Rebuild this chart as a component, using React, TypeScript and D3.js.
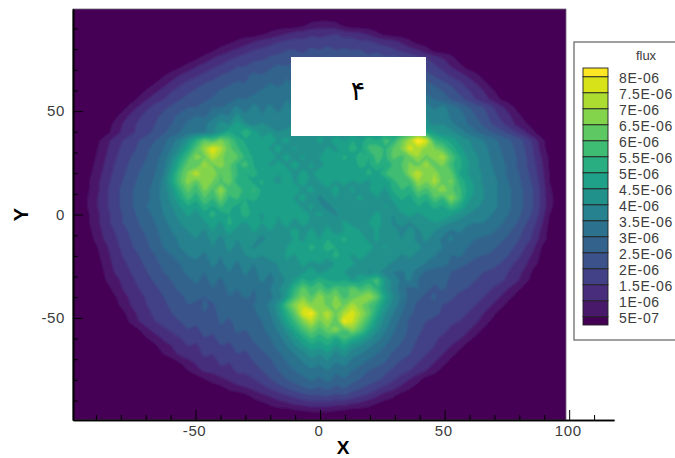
import React, { useEffect, useRef } from "react";
import * as d3 from "d3";

// contour levels, bottom to top of the legend
const levels = [5e-7, 1e-6, 1.5e-6, 2e-6, 2.5e-6, 3e-6, 3.5e-6, 4e-6, 4.5e-6, 5e-6, 5.5e-6, 6e-6, 6.5e-6, 7e-6, 7.5e-6, 8e-6];
const levelLabels = ["5E-07", "1E-06", "1.5E-06", "2E-06", "2.5E-06", "3E-06", "3.5E-06", "4E-06", "4.5E-06", "5E-06", "5.5E-06", "6E-06", "6.5E-06", "7E-06", "7.5E-06", "8E-06"];
const majorX = [-50, 0, 50, 100];
const minorX = [-90, -80, -70, -60, -40, -30, -20, -10, 10, 20, 30, 40, 60, 70, 80, 90, 110];
const majorY = [-50, 0, 50];
const minorY = [-90, -80, -70, -60, -40, -30, -20, -10, 10, 20, 30, 40, 60, 70, 80, 90];

// flux, units of 1E-07, on a 61 x 51 grid, top row first.
// each row only lists the cells inside the disc, rowStarts says where it begins
const outside = 2;
const gridCols = 61;
const rowStarts = [0,0,28,23,19,17,15,13,11,10,8,7,6,5,5,4,3,3,3,2,2,2,2,2,2,2,2,2,2,3,3,3,4,4,5,5,6,6,7,8,9,10,11,13,14,16,18,21,23,27,0];
const fluxRows = [
  [],
  [],
  [4,7,8,8,7,4],
  [4,6,8,10,12,13,14,13,14,15,13,12,11,9,6,3],
  [4,6,8,10,12,13,15,16,17,16,18,17,18,17,17,18,16,16,14,13,12,9,6,3],
  [4,7,9,11,13,15,16,18,18,20,20,19,21,20,22,20,21,20,20,18,19,17,16,14,12,10,7,3],
  [4,7,10,12,14,16,18,19,19,21,22,23,24,22,25,24,26,24,25,23,24,22,23,21,22,20,19,17,15,13,10,7,3],
  [4,7,10,12,14,16,18,20,20,22,23,24,26,25,27,25,28,26,27,25,26,28,26,24,26,24,23,22,22,20,18,16,13,10,7,3],
  [4,7,10,12,14,16,18,20,21,22,24,26,25,27,26,29,27,30,28,29,27,30,28,29,27,28,26,27,27,25,24,24,22,19,17,14,12,9,6,3],
  [5,8,11,14,16,18,20,21,22,24,26,25,28,27,30,28,31,29,32,30,31,29,32,30,31,29,30,31,29,31,29,28,28,26,24,21,19,16,13,10,6,3],
  [3,6,9,12,15,17,19,21,23,23,26,27,26,29,28,31,30,32,31,33,31,34,32,33,31,34,32,33,31,34,32,35,33,31,32,29,27,25,22,19,16,13,10,6,3],
  [3,6,10,13,15,18,20,22,24,24,26,28,27,31,30,33,31,34,32,35,33,36,34,35,33,36,34,37,33,35,37,34,38,35,33,36,32,30,28,25,22,19,15,12,9,5,3],
  [3,7,11,14,17,19,21,23,25,25,28,30,30,34,36,32,37,34,36,33,37,34,38,35,37,34,37,35,38,34,37,35,39,36,41,37,42,38,34,37,33,30,26,23,20,16,12,8,4],
  [3,7,11,14,17,19,21,24,26,28,30,29,33,37,35,42,36,40,35,38,36,40,37,39,36,39,37,40,36,39,37,41,38,42,40,44,41,47,40,37,38,34,32,29,25,22,18,14,11,7,3],
  [6,10,13,16,18,20,23,25,28,31,30,34,38,42,40,48,41,38,41,37,39,37,41,38,40,37,41,38,42,38,41,39,42,40,46,42,49,44,41,39,40,36,33,30,27,24,20,17,13,9,6,3],
  [3,7,11,14,16,19,21,24,27,30,33,35,34,39,44,50,46,55,48,43,45,40,42,40,42,38,43,40,42,39,43,40,44,41,48,44,50,54,58,50,46,41,42,38,34,31,28,25,22,19,15,11,6],
  [4,8,12,15,17,20,22,25,28,33,37,44,53,62,58,66,60,53,49,50,46,48,44,47,42,45,42,47,43,49,45,50,47,54,50,57,54,64,72,86,78,56,52,48,44,41,38,35,32,29,26,23,19,14,7],
  [5,9,13,16,18,21,24,27,30,35,41,50,60,70,80,72,62,56,51,47,49,44,47,42,46,41,45,42,46,44,48,52,49,56,59,54,61,66,78,72,68,65,61,53,47,42,39,37,33,30,27,24,20,15,8],
  [6,10,14,17,20,23,25,28,32,39,48,57,68,64,74,67,60,61,54,49,46,48,44,47,43,46,42,45,48,46,51,48,53,50,57,54,62,58,64,70,63,68,72,60,51,45,41,38,34,31,28,25,21,16,10,4],
  [3,7,11,15,18,21,24,26,29,33,42,53,63,60,72,64,68,61,54,57,50,47,44,47,44,48,43,46,43,47,45,49,46,52,49,55,50,56,60,66,63,72,61,66,56,52,46,41,38,35,32,29,25,21,17,11,4],
  [4,8,12,16,19,22,25,27,30,35,46,58,66,76,65,70,60,62,55,50,53,46,49,45,48,43,47,44,48,45,49,46,50,47,52,48,55,60,57,68,76,65,70,60,62,50,45,42,39,36,32,29,26,22,18,12,5],
  [5,9,13,17,20,23,26,28,31,37,48,59,68,61,70,65,59,64,52,55,48,51,46,43,48,44,48,43,45,49,44,48,44,47,43,50,46,53,60,57,70,65,72,63,66,54,48,43,39,37,34,30,27,23,19,13,5],
  [5,9,14,18,21,24,27,29,32,37,44,54,62,56,66,59,70,57,60,52,56,49,46,49,45,48,44,47,41,44,47,42,46,41,45,48,44,51,55,52,62,58,64,70,61,57,49,44,40,37,34,31,28,24,20,14,6],
  [6,10,14,18,21,24,27,29,32,37,42,49,57,52,60,55,64,54,56,50,53,47,50,45,49,44,47,42,39,42,45,41,44,47,42,45,41,47,51,48,55,51,60,55,68,58,47,43,40,37,34,31,28,24,20,14,7],
  [6,10,14,18,21,24,27,30,32,36,40,45,50,46,54,49,56,51,49,52,46,50,46,50,45,48,43,46,41,38,42,40,44,41,45,42,46,43,48,45,50,47,52,49,56,51,44,41,39,37,34,31,28,24,20,14,7],
  [5,9,13,17,20,23,26,29,31,35,38,42,46,43,48,52,47,50,46,54,47,44,48,45,50,46,48,44,47,42,39,43,40,45,42,47,43,40,44,47,43,48,45,50,46,43,40,38,37,35,32,30,27,23,19,13,5],
  [5,9,13,17,20,22,25,28,30,33,37,40,43,40,44,48,44,52,47,44,50,45,48,44,47,43,47,44,40,44,42,46,43,40,45,47,43,39,43,39,44,41,45,42,40,38,36,35,35,33,31,28,25,21,17,11,4],
  [4,8,12,15,18,21,24,26,29,32,35,38,40,42,39,45,42,47,43,40,46,42,45,41,44,47,43,46,43,47,43,45,48,45,42,46,40,43,38,42,39,43,40,37,34,36,33,32,32,31,28,26,23,19,15,9,3],
  [3,7,11,14,17,20,23,25,28,31,33,36,38,40,37,42,38,43,40,45,42,38,43,40,42,46,44,48,45,50,47,52,45,48,43,46,42,44,40,42,38,41,37,34,36,32,30,30,29,28,26,24,21,18,14,8,3],
  [5,9,13,16,19,22,24,27,30,32,35,37,39,36,40,37,42,38,42,39,44,40,43,45,50,46,52,48,53,50,47,50,45,48,43,46,41,44,40,42,38,40,35,32,34,30,28,27,26,24,22,19,15,11,5],
  [4,8,12,15,18,20,23,25,28,30,33,35,36,34,38,35,39,36,40,43,40,44,41,46,44,50,47,50,47,52,47,44,48,43,45,41,44,39,42,37,39,35,32,30,31,28,26,25,24,22,20,17,13,9,4],
  [3,7,11,14,16,19,21,24,26,28,30,32,34,32,36,34,37,34,38,35,39,37,41,44,43,46,44,45,41,46,50,46,43,44,40,43,38,39,36,38,34,31,32,29,26,25,23,23,22,20,17,14,11,7,3],
  [6,10,13,15,18,20,22,25,27,29,31,33,30,34,32,35,33,36,33,38,35,39,43,41,44,48,43,46,50,45,41,44,39,42,37,35,34,37,32,29,29,27,25,24,22,21,20,19,17,15,12,9,4],
  [5,8,11,14,16,18,21,23,25,27,29,31,28,32,29,33,31,34,32,36,33,37,41,46,52,48,54,50,47,50,45,48,52,58,45,38,34,36,30,28,26,27,24,23,21,20,19,18,16,14,11,7,3],
  [7,10,13,15,17,19,22,24,26,28,29,27,30,28,31,30,32,30,33,35,39,44,54,62,56,60,54,60,56,62,56,60,54,44,38,32,28,30,26,24,26,23,21,20,18,17,15,13,10,7,3],
  [4,8,11,13,16,18,20,22,24,26,27,25,28,26,30,28,31,29,32,34,37,46,58,66,60,68,62,66,58,62,66,70,62,48,40,34,28,26,24,26,22,21,19,18,17,15,13,10,7,3],
  [7,10,13,15,17,19,21,23,25,23,26,24,28,26,29,27,30,33,36,44,58,68,74,66,70,62,68,64,72,66,60,54,45,38,32,27,24,22,24,20,19,18,17,15,13,10,7,3],
  [3,8,11,14,16,18,20,21,24,22,25,23,27,26,28,27,29,32,35,42,52,62,78,82,68,74,64,72,78,70,62,50,41,35,30,26,23,21,22,19,18,17,15,13,10,7,3],
  [6,10,13,15,17,19,20,22,21,24,22,26,24,27,26,28,30,33,39,48,56,66,74,64,70,60,82,76,66,56,46,38,33,28,24,22,20,18,20,16,15,13,11,8,4],
  [5,9,12,14,16,18,20,19,22,21,24,23,26,25,27,29,32,36,42,50,58,64,58,64,68,60,68,60,50,42,36,31,27,24,21,19,16,17,14,13,11,8,4],
  [5,8,11,13,15,17,17,20,19,22,21,24,23,26,27,30,33,38,44,50,56,52,56,50,58,52,48,42,37,33,29,26,23,20,18,16,14,13,11,8,4],
  [4,8,10,13,15,14,18,17,20,19,22,21,24,26,28,32,35,40,44,48,46,50,44,48,42,40,36,33,30,27,24,21,19,17,15,13,10,7,3],
  [5,8,11,13,13,16,15,18,17,20,19,22,24,26,29,32,35,38,42,40,44,38,42,37,35,32,30,27,24,22,20,18,15,13,10,7,3],
  [5,8,11,13,13,16,15,18,18,20,22,24,27,30,32,35,38,36,39,35,37,33,31,29,27,25,22,19,17,15,13,10,7,3],
  [5,8,11,11,14,13,16,16,18,20,22,25,27,30,32,34,32,35,31,33,30,28,25,23,21,19,17,15,13,10,7,3],
  [5,8,9,11,13,13,15,17,20,22,25,27,29,31,29,32,28,30,27,25,23,21,19,16,13,10,7,3],
  [4,7,9,10,12,14,16,19,21,23,25,27,25,27,24,26,23,21,19,17,14,12,9,6,3],
  [4,7,9,11,13,15,17,19,20,20,21,19,20,18,16,14,11,8,6,3],
  [4,6,8,9,11,12,13,13,13,12,12,10,9,7,5,3],
  [3,4,5,5,5,4,3],
  [],
];

const width = 675;
const height = 458;
const plot = { left: 73, right: 566, top: 9, bottom: 420 };
const axisEnd = 614;

const App = () => {
  const svgRef = useRef<SVGSVGElement>(null);

  useEffect(() => {
    const svg = d3.select(svgRef.current);
    svg.selectAll("*").remove();

    // scales
    const x = d3.scaleLinear().domain([-99.2, 118]).range([plot.left, axisEnd]);
    const y = d3.scaleLinear().domain([-99.4, 99.4]).range([plot.bottom, plot.top]);
    const colorOf = (i: number) => d3.interpolateViridis(i / levels.length);

    svg.append("defs").append("clipPath").attr("id", "plot-clip")
      .append("rect")
      .attr("x", plot.left).attr("y", plot.top)
      .attr("width", plot.right - plot.left).attr("height", plot.bottom - plot.top);
    const soft = svg.select("defs").append("filter").attr("id", "soft")
      .attr("x", "-2%").attr("y", "-2%").attr("width", "104%").attr("height", "104%");
    soft.append("feGaussianBlur").attr("stdDeviation", 1.1);

    // flood contours
    const nx = gridCols;
    const ny = fluxRows.length;
    const flat = new Array(nx * ny).fill(outside * 1e-7);
    fluxRows.forEach((row, j) => {
      row.forEach((v, k) => {
        flat[j * nx + rowStarts[j] + k] = v * 1e-7;
      });
    });
    const cellW = (plot.right - plot.left) / (nx - 1);
    const cellH = (plot.bottom - plot.top) / (ny - 1);
    const toPixels = d3.geoTransform({
      point(px, py) {
        this.stream.point(plot.left + (px - 0.5) * cellW, plot.top + (py - 0.5) * cellH);
      },
    });
    const path = d3.geoPath(toPixels);
    const contours = d3.contours().size([nx, ny]).thresholds(levels)(flat);

    const field = svg.append("g").attr("clip-path", "url(#plot-clip)").append("g").attr("filter", "url(#soft)");
    field.append("rect")
      .attr("x", plot.left - 4).attr("y", plot.top - 4)
      .attr("width", plot.right - plot.left + 8).attr("height", plot.bottom - plot.top + 8)
      .attr("fill", colorOf(0));
    field.selectAll("path.band")
      .data(contours)
      .join("path")
      .attr("class", "band")
      .attr("d", d => path(d))
      .attr("fill", (d, i) => colorOf(i + 1));

    // frame
    svg.append("rect")
      .attr("x", plot.left).attr("y", plot.top)
      .attr("width", plot.right - plot.left).attr("height", plot.bottom - plot.top)
      .attr("fill", "none").attr("stroke", "#6f6a78").attr("stroke-width", 0.8);

    // axes
    const font = "'Liberation Sans', Arial, sans-serif";
    const styleAxis = (g: any) => {
      g.attr("font-family", font).attr("font-size", 15);
      g.selectAll("text").attr("fill", "#3c3c3c").attr("letter-spacing", 0.6);
      g.selectAll("line").attr("stroke", "#000").attr("stroke-width", 1);
      g.selectAll("path.domain").attr("stroke", "#000").attr("stroke-width", 1.6);
    };
    svg.append("g").attr("transform", `translate(0,${plot.bottom})`)
      .call(d3.axisBottom(x).tickValues(majorX).tickSize(-10).tickSizeOuter(0).tickPadding(5).tickFormat(d => String(d)))
      .call(styleAxis)
      .selectAll("text").attr("dx", -1.5);
    svg.append("g").attr("transform", `translate(0,${plot.bottom})`)
      .call(d3.axisBottom(x).tickValues(minorX).tickSize(-5).tickSizeOuter(0).tickFormat(() => ""))
      .call(styleAxis);
    svg.append("g").attr("transform", `translate(${plot.left},0)`)
      .call(d3.axisLeft(y).tickValues(majorY).tickSize(-10).tickSizeOuter(0).tickPadding(8).tickFormat(d => String(d)))
      .call(styleAxis);
    svg.append("g").attr("transform", `translate(${plot.left},0)`)
      .call(d3.axisLeft(y).tickValues(minorY).tickSize(-5).tickSizeOuter(0).tickFormat(() => ""))
      .call(styleAxis);

    svg.append("text")
      .attr("x", 343).attr("y", 454)
      .attr("text-anchor", "middle").attr("font-family", font).attr("font-weight", "bold").attr("font-size", 19)
      .text("X");
    svg.append("text")
      .attr("transform", `translate(28,${y(0)}) rotate(-90)`)
      .attr("text-anchor", "middle").attr("font-family", font).attr("font-weight", "bold").attr("font-size", 20)
      .text("Y");

    // white patch with the panel number
    svg.append("rect").attr("x", 291).attr("y", 57).attr("width", 135).attr("height", 79).attr("fill", "#fff");
    svg.append("text")
      .attr("x", 358).attr("y", 100)
      .attr("text-anchor", "middle").attr("font-family", "'DejaVu Sans'").attr("font-size", 27)
      .text("۴");

    // legend
    const legendY = d3.scaleLinear().domain([0, levels.length - 1]).range([316.7, 76.7]);
    const legend = svg.append("g");
    legend.append("rect")
      .attr("x", 574).attr("y", 42).attr("width", 110).attr("height", 298)
      .attr("fill", "#fff").attr("stroke", "#777").attr("stroke-width", 1.4);
    legend.append("text")
      .attr("x", 646).attr("y", 60).attr("text-anchor", "middle")
      .attr("font-family", font).attr("font-size", 13).attr("fill", "#3c3c3c")
      .text("flux");
    const edges = [325, ...levels.map((_, i) => legendY(i)), 68];
    legend.selectAll("rect.swatch")
      .data(d3.range(levels.length + 1))
      .join("rect")
      .attr("class", "swatch")
      .attr("x", 583).attr("width", 25)
      .attr("y", i => edges[i + 1]).attr("height", i => edges[i] - edges[i + 1])
      .attr("fill", i => colorOf(i))
      .attr("stroke", "#222").attr("stroke-width", 0.9);
    legend.selectAll("text.level")
      .data(levelLabels)
      .join("text")
      .attr("class", "level")
      .attr("x", 619).attr("y", (d, i) => legendY(i) + 6)
      .attr("font-family", font).attr("font-size", 14).attr("letter-spacing", 0.7).attr("fill", "#3c3c3c")
      .text(d => d);
  }, []);

  return <svg ref={svgRef} width={width} height={height} style={{ position: "absolute", left: 0, top: 0, background: "#fff" }} />;
};

export default App;
